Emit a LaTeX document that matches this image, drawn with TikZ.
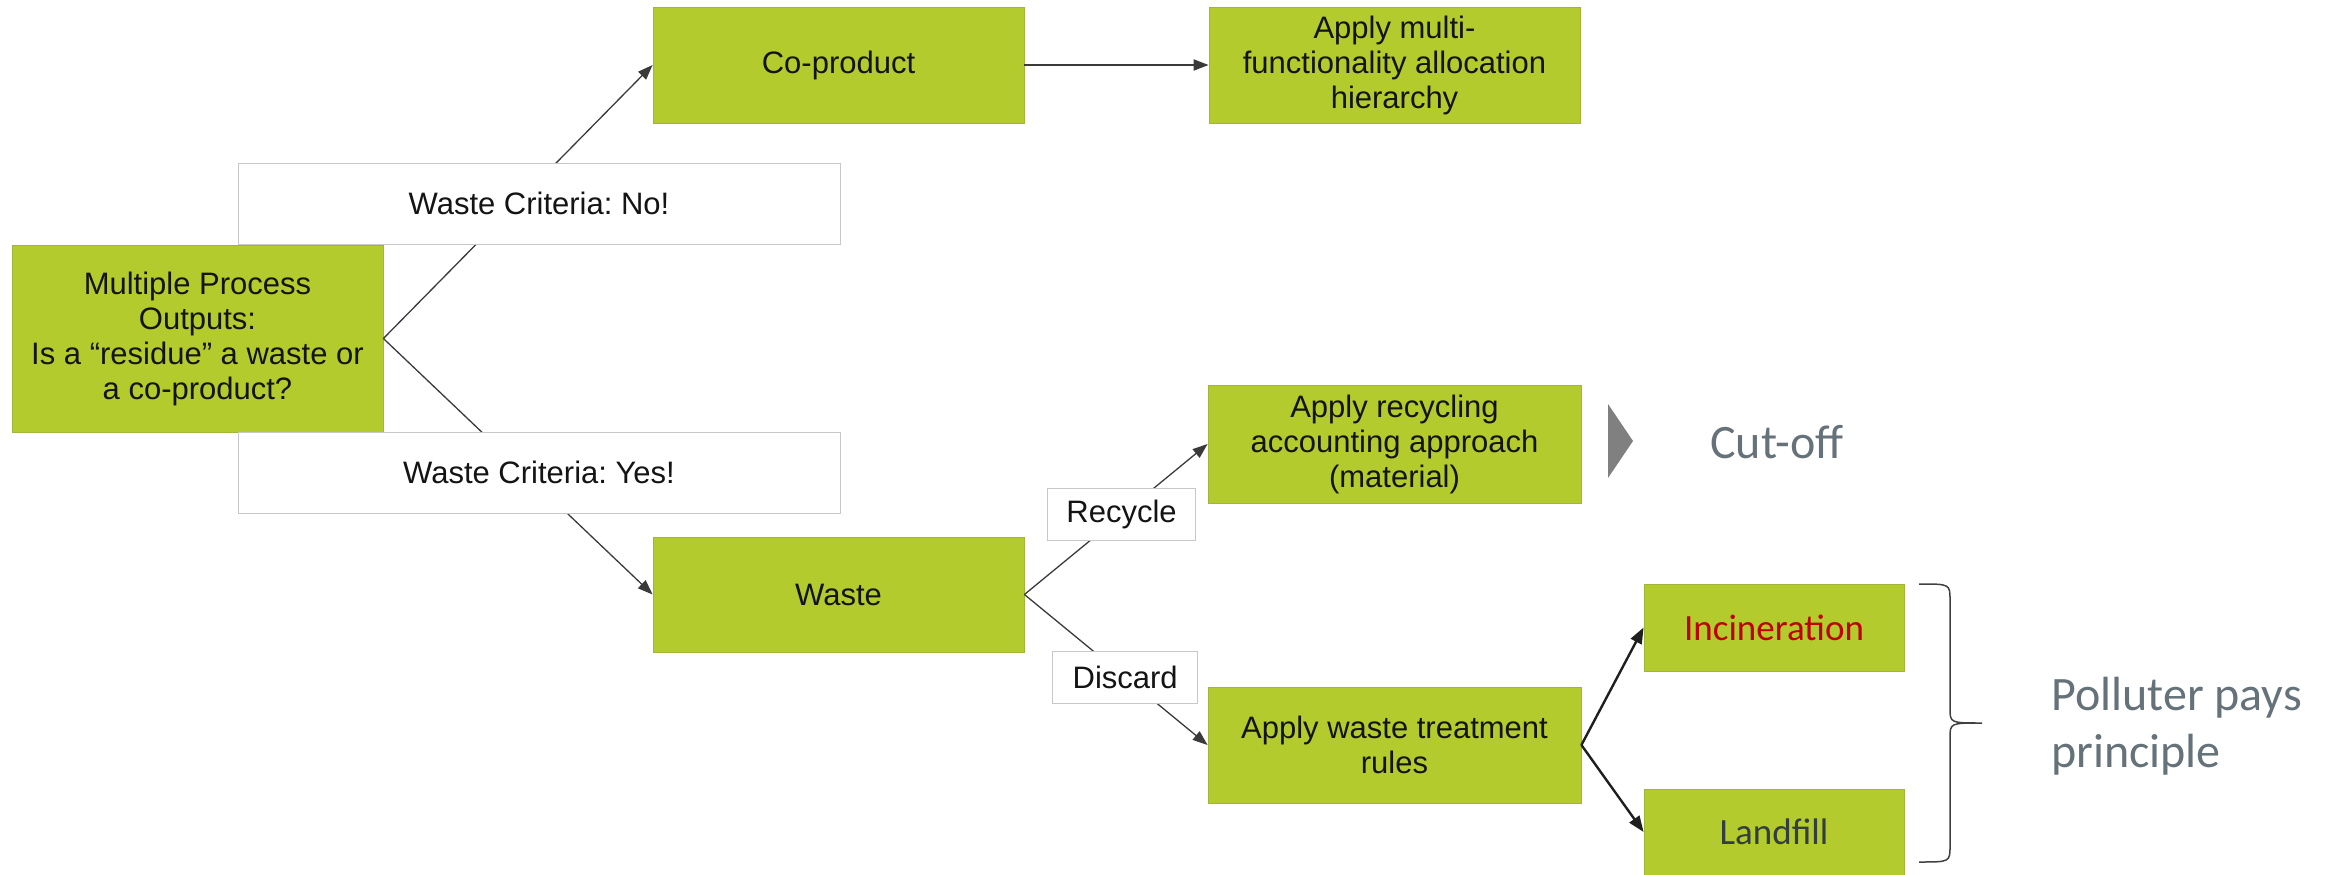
\documentclass[tikz,border=0pt]{standalone}
\usepackage{fontspec}
\setmainfont{Liberation Sans}
\newfontfamily\calib{Carlito}
\usetikzlibrary{arrows.meta}
\frenchspacing
\definecolor{boxgreen}{HTML}{B3CB2D}
\definecolor{boxedge}{HTML}{A3B43A}
\definecolor{lbledge}{HTML}{C8C8C8}
\definecolor{slate}{HTML}{65727A}
\definecolor{darkslate}{HTML}{333D44}
\definecolor{alert}{HTML}{C00000}
\definecolor{wire}{HTML}{3A3A3A}
\definecolor{ink}{HTML}{141414}
\begin{document}
\begin{tikzpicture}[x=1pt,y=-1pt,
  gbox/.style={draw=boxedge, line width=0.8pt, fill=boxgreen, inner sep=0pt,
    align=center, text=ink, font=\fontsize{31}{35}\selectfont},
  lbl/.style={draw=lbledge, line width=1pt, fill=white, inner sep=0pt,
    align=center, text=ink, font=\fontsize{31}{35}\selectfont},
  thinln/.style={draw=wire, line width=1.3pt, -{Triangle[length=15pt,width=11pt]}},
  thickln/.style={draw=black!88, line width=2.4pt, -{Triangle[length=16pt,width=12pt]}},
  note/.style={inner sep=0pt, text=slate, font=\calib\fontsize{48}{57}\selectfont, align=left}
]
\useasboundingbox (0,0) rectangle (2328,875);

% green process boxes
\node[gbox, minimum width=371pt, minimum height=187pt] (main) at (197.5,338.5)
  {Multiple Process\\Outputs:\\Is a “residue” a waste or\\a co-product?};
\node[gbox, minimum width=371pt, minimum height=116pt] (coprod) at (838.5,65) {Co-product};
\node[gbox, minimum width=371pt, minimum height=116pt] (multi) at (1394.5,65)
  {Apply multi-\\functionality allocation\\hierarchy};
\node[gbox, minimum width=371pt, minimum height=115pt] (waste) at (838.5,594.5) {Waste};
\node[gbox, minimum width=373pt, minimum height=118pt] (recyc) at (1394.5,444)
  {Apply recycling\\accounting approach\\(material)};
\node[gbox, minimum width=373pt, minimum height=116pt] (treat) at (1394.5,745)
  {Apply waste treatment\\rules};
\node[gbox, minimum width=260pt, minimum height=87pt, font=\calib\fontsize{37}{40}\selectfont, text=alert]
  (incin) at (1774,627.5) {Incineration};
\node[gbox, minimum width=260pt, minimum height=86pt, font=\calib\fontsize{37}{40}\selectfont, text=darkslate]
  (landf) at (1774,832) {Landfill};

% decision branches
\draw[thinln] (main.east) -- (coprod.west);
\draw[thinln] (main.east) -- (waste.west);
\node[lbl, minimum width=602pt, minimum height=81pt] (crno) at (539,203.5) {Waste Criteria: No!};
\node[lbl, minimum width=602pt, minimum height=81pt] (cryes) at (539,472.5) {Waste Criteria: Yes!};

\draw[thinln, line width=2pt] (coprod.east) -- (multi.west);

\draw[thinln] (waste.east) -- node[lbl, pos=0.53, minimum width=148pt, minimum height=52pt] (rec) {Recycle} (recyc.west);
\draw[thinln] (waste.east) -- node[lbl, pos=0.55, minimum width=145pt, minimum height=52pt] (disc) {Discard} (treat.west);

\draw[thickln] (treat.east) -- (incin.west);
\draw[thickln] (treat.east) -- (landf.west);

% cut-off marker
\fill[gray] (1608,404) -- (1633,441) -- (1608,478) -- cycle;
\node[note, anchor=base west] (cutoff) at (1710,458) {Cut-off};

% brace grouping the disposal routes
\draw[draw=black!75, line width=1.5pt]
  (1919,584) .. controls (1950,584) .. (1950,600) -- (1950,708)
  .. controls (1950,723) .. (1982,723)
  .. controls (1950,723) .. (1950,738) -- (1950,846)
  .. controls (1950,862) .. (1919,862);
\node[note, anchor=west] (ppp) at (2051,726) {Polluter pays\\principle};
\end{tikzpicture}
\end{document}
